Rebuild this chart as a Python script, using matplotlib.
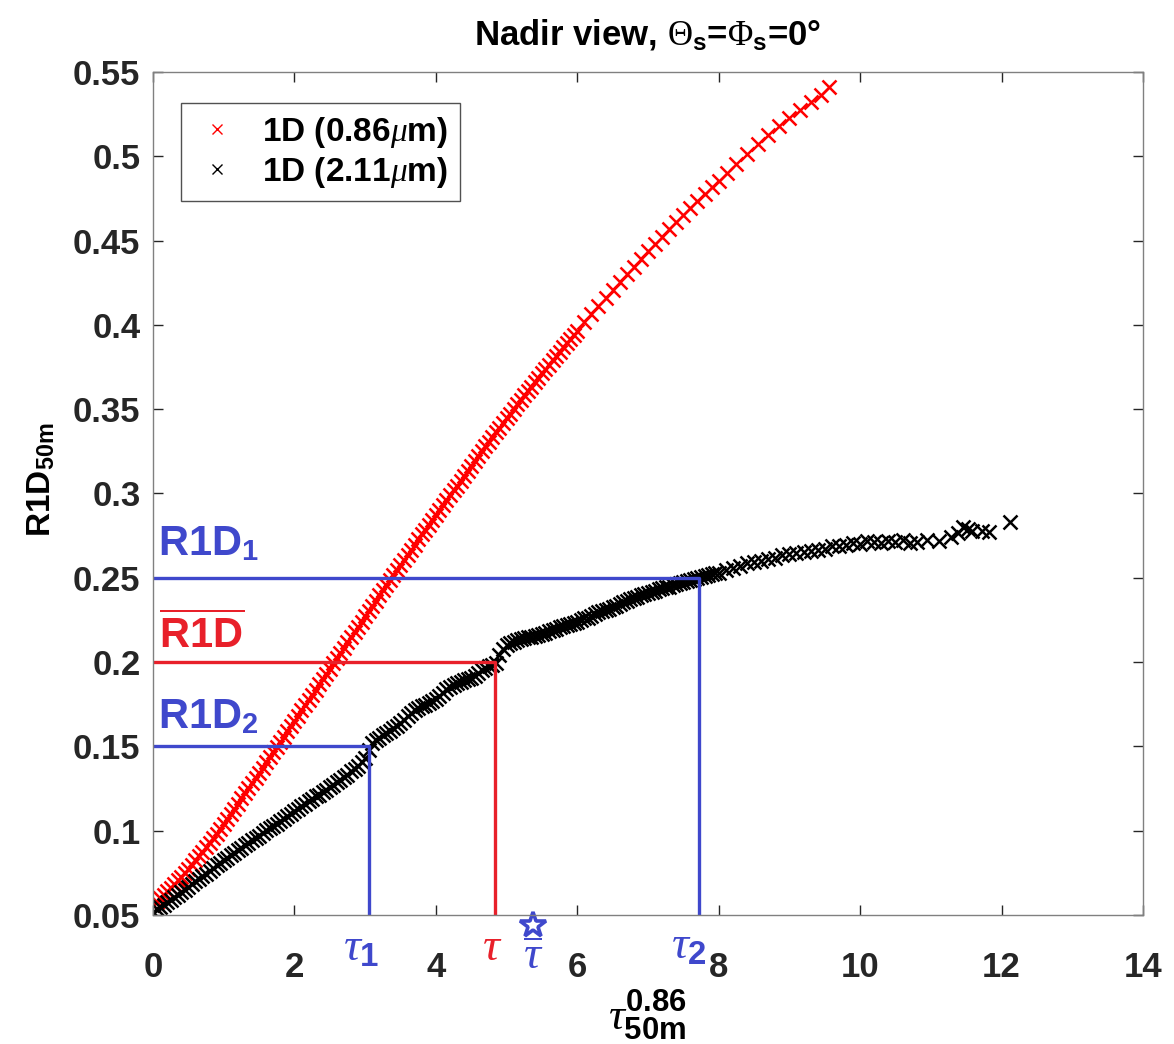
import numpy as np
import matplotlib
matplotlib.use("Agg")
import matplotlib.pyplot as plt
from matplotlib.lines import Line2D

# fonts: Helvetica-like bold text, Times-like greek letters
plt.rcParams['font.family'] = ['Liberation Sans', 'DejaVu Sans']
plt.rcParams['mathtext.fontset'] = 'custom'
plt.rcParams['mathtext.rm'] = 'Liberation Serif:normal'
plt.rcParams['mathtext.it'] = 'Liberation Serif:italic:normal'
plt.rcParams['mathtext.bf'] = 'Liberation Sans:bold'
plt.rcParams['mathtext.sf'] = 'Liberation Sans:bold'

# ---- data ----
# 1D reflectance at 0.86 um versus optical thickness
tau_086 = [0.00, 0.05, 0.10, 0.15, 0.20, 0.25, 0.30, 0.35, 0.40, 0.45,
           0.50, 0.55, 0.60, 0.65, 0.70, 0.75, 0.80, 0.85, 0.90, 0.95,
           1.00, 1.05, 1.10, 1.15, 1.20, 1.25, 1.30, 1.35, 1.40, 1.45,
           1.50, 1.55, 1.60, 1.65, 1.70, 1.75, 1.80, 1.85, 1.90, 1.95,
           2.00, 2.05, 2.10, 2.15, 2.20, 2.25, 2.30, 2.35, 2.40, 2.45,
           2.50, 2.55, 2.60, 2.65, 2.70, 2.75, 2.80, 2.85, 2.90, 2.95,
           3.00, 3.05, 3.10, 3.15, 3.20, 3.25, 3.30, 3.35, 3.40, 3.45,
           3.50, 3.55, 3.60, 3.65, 3.70, 3.75, 3.80, 3.85, 3.90, 3.95,
           4.00, 4.05, 4.10, 4.15, 4.20, 4.25, 4.30, 4.35, 4.40, 4.45,
           4.50, 4.55, 4.60, 4.65, 4.70, 4.75, 4.80, 4.85, 4.90, 4.95,
           5.00, 5.05, 5.10, 5.15, 5.20, 5.25, 5.30, 5.35, 5.40, 5.45,
           5.50, 5.55, 5.60, 5.65, 5.70, 5.75, 5.80, 5.85, 5.90, 5.95,
           6.00, 6.10, 6.20, 6.30, 6.40, 6.50, 6.60, 6.70, 6.80, 6.90,
           7.00, 7.10, 7.20, 7.30, 7.40, 7.50, 7.60, 7.70, 7.80, 7.90,
           8.00, 8.12, 8.25, 8.40, 8.55, 8.70, 8.85, 9.00, 9.15, 9.30,
           9.45, 9.56]
r1d_086 = [.0560, .0579, .0599, .0619, .0640, .0661, .0683, .0705, .0728, .0751,
           .0775, .0799, .0824, .0849, .0875, .0901, .0928, .0955, .0983, .1011,
           .1040, .1069, .1099, .1129, .1160, .1191, .1222, .1252, .1283, .1313,
           .1344, .1374, .1405, .1435, .1466, .1496, .1527, .1558, .1589, .1620,
           .1651, .1682, .1713, .1744, .1775, .1806, .1837, .1868, .1899, .1930,
           .1961, .1992, .2023, .2054, .2085, .2116, .2147, .2178, .2209, .2240,
           .2271, .2302, .2333, .2364, .2395, .2426, .2457, .2487, .2517, .2547,
           .2577, .2607, .2637, .2667, .2697, .2727, .2757, .2786, .2815, .2844,
           .2873, .2902, .2931, .2960, .2989, .3018, .3047, .3076, .3105, .3134,
           .3163, .3192, .3221, .3250, .3279, .3307, .3335, .3363, .3391, .3419,
           .3447, .3474, .3501, .3528, .3555, .3582, .3608, .3634, .3660, .3686,
           .3712, .3738, .3764, .3790, .3816, .3841, .3866, .3891, .3916, .3941,
           .3966, .4015, .4064, .4112, .4160, .4208, .4255, .4301, .4346, .4391,
           .4435, .4479, .4523, .4566, .4609, .4651, .4693, .4734, .4775, .4815,
           .4855, .4903, .4954, .5013, .5070, .5125, .5178, .5229, .5277, .5323,
           .5366, .5410]

# 1D reflectance at 2.11 um versus optical thickness
tau_211 = [0.00, 0.05, 0.10, 0.15, 0.20, 0.25, 0.30, 0.35, 0.40, 0.45,
           0.50, 0.55, 0.60, 0.65, 0.70, 0.75, 0.80, 0.85, 0.90, 0.95,
           1.00, 1.05, 1.10, 1.15, 1.20, 1.25, 1.30, 1.35, 1.40, 1.45,
           1.50, 1.55, 1.60, 1.65, 1.70, 1.75, 1.80, 1.85, 1.90, 1.95,
           2.00, 2.05, 2.10, 2.15, 2.20, 2.25, 2.30, 2.35, 2.40, 2.45,
           2.50, 2.55, 2.60, 2.65, 2.70, 2.75, 2.80, 2.85, 2.90, 2.95,
           3.00, 3.05, 3.10, 3.15, 3.20, 3.25, 3.30, 3.35, 3.40, 3.45,
           3.50, 3.55, 3.60, 3.65, 3.70, 3.75, 3.80, 3.85, 3.90, 3.95,
           4.00, 4.05, 4.10, 4.15, 4.20, 4.25, 4.30, 4.35, 4.40, 4.45,
           4.50, 4.55, 4.60, 4.65, 4.70, 4.75, 4.80, 4.85, 4.90, 4.95,
           5.00, 5.05, 5.10, 5.15, 5.20, 5.25, 5.30, 5.35, 5.40, 5.45,
           5.50, 5.55, 5.60, 5.65, 5.70, 5.75, 5.80, 5.85, 5.90, 5.95,
           6.00, 6.05, 6.10, 6.15, 6.20, 6.25, 6.30, 6.35, 6.40, 6.45,
           6.50, 6.55, 6.60, 6.65, 6.70, 6.75, 6.80, 6.85, 6.90, 6.95,
           7.00, 7.05, 7.10, 7.15, 7.20, 7.25, 7.30, 7.35, 7.40, 7.45,
           7.50, 7.55, 7.60, 7.65, 7.70, 7.75, 7.80, 7.85, 7.90, 7.95,
           8.00, 8.10, 8.20, 8.30, 8.40, 8.50, 8.60, 8.70, 8.80, 8.90,
           9.00, 9.10, 9.20, 9.30, 9.40, 9.50, 9.60, 9.70, 9.80, 9.90,
           10.00, 10.10, 10.20, 10.30, 10.40, 10.50, 10.60, 10.70, 10.80, 10.95,
           11.12, 11.28, 11.38, 11.45, 11.52, 11.58, 11.72, 11.82, 12.12]
r1d_211 = [.0520, .0533, .0548, .0561, .0577, .0590, .0606, .0620, .0637, .0650,
           .0667, .0681, .0699, .0713, .0731, .0745, .0762, .0776, .0795, .0808,
           .0826, .0839, .0856, .0867, .0884, .0897, .0913, .0925, .0944, .0955,
           .0971, .0984, .1001, .1013, .1030, .1041, .1059, .1072, .1089, .1100,
           .1118, .1131, .1146, .1157, .1175, .1186, .1203, .1214, .1232, .1242,
           .1259, .1270, .1289, .1301, .1320, .1331, .1351, .1364, .1385, .1405,
           .1431, .1478, .1521, .1539, .1552, .1568, .1579, .1592, .1608, .1623,
           .1641, .1659, .1680, .1697, .1716, .1726, .1740, .1745, .1756, .1768,
           .1781, .1797, .1818, .1839, .1852, .1861, .1873, .1882, .1891, .1897,
           .1905, .1918, .1933, .1951, .1966, .1976, .1983, .1992, .2041, .2078,
           .2099, .2112, .2119, .2128, .2136, .2141, .2146, .2149, .2157, .2162,
           .2168, .2175, .2187, .2191, .2197, .2208, .2214, .2219, .2226, .2231,
           .2238, .2251, .2259, .2262, .2271, .2283, .2296, .2300, .2308, .2316,
           .2327, .2331, .2342, .2357, .2363, .2374, .2382, .2386, .2398, .2405,
           .2412, .2417, .2424, .2431, .2438, .2443, .2448, .2455, .2461, .2468,
           .2472, .2479, .2485, .2491, .2497, .2503, .2508, .2516, .2521, .2527,
           .2531, .2545, .2556, .2569, .2587, .2592, .2601, .2612, .2619, .2633,
           .2638, .2647, .2652, .2660, .2667, .2671, .2686, .2690, .2697, .2708,
           .2702, .2716, .2710, .2705, .2719, .2713, .2722, .2706, .2712, .2725,
           .2718, .2741, .2768, .2800, .2792, .2780, .2778, .2774, .2830]

# retrieval construction
r1d_1 = 0.25      # upper reflectance
r1d_mean = 0.20   # mean reflectance
r1d_2 = 0.15      # lower reflectance
tau_1 = 3.05
tau_mean = 4.83
tau_2 = 7.72
tau_star = 5.37   # mean of tau_1 and tau_2 (shown with star)

x_ticks = [0, 2, 4, 6, 8, 10, 12, 14]
y_ticks = [0.05, 0.1, 0.15, 0.2, 0.25, 0.3, 0.35, 0.4, 0.45, 0.5, 0.55]
y_ticklabels = ['0.05', '0.1', '0.15', '0.2', '0.25', '0.3', '0.35', '0.4', '0.45', '0.5', '0.55']

blue = '#3F48CC'
red_line = '#E8202A'
axis_col = '#262626'

fig = plt.figure(figsize=(11.74, 10.44), dpi=100)
ax = fig.add_axes([0.1303, 0.1236, 0.8433, 0.8075])

ax.plot(tau_086, r1d_086, 'x', color='#FF0000', ms=10, mew=1.8, ls='none')
ax.plot(tau_211, r1d_211, 'x', color='black', ms=10, mew=1.8, ls='none')

# lines from the reflectance levels to the curve and down to the axis
ax.plot([0, tau_2, tau_2], [r1d_1, r1d_1, 0.05], color=blue, lw=2.4)
ax.plot([0, tau_mean, tau_mean], [r1d_mean, r1d_mean, 0.05], color=red_line, lw=2.4)
ax.plot([0, tau_1, tau_1], [r1d_2, r1d_2, 0.05], color=blue, lw=2.4)

ax.set_xlim(0, 14)
ax.set_ylim(0.05, 0.55)
ax.set_xticks(x_ticks)
ax.set_xticklabels([str(t) for t in x_ticks])
ax.set_yticks(y_ticks)
ax.set_yticklabels(y_ticklabels)
ax.tick_params(direction='in', length=7, width=1, colors=axis_col, labelsize=25,
               top=True, right=True)
ax.tick_params(axis='x', pad=26)
ax.tick_params(axis='y', pad=9)
for lab in ax.get_xticklabels() + ax.get_yticklabels():
    lab.set_fontweight('bold')
for sp in ax.spines.values():
    sp.set_color('#808080')
    sp.set_linewidth(1)

# level labels on the left
ax.text(0.07, 0.2635, r'R1D$_{\mathbf{1}}$', color=blue, fontsize=30, fontweight='bold', va='baseline')
ax.text(0.09, 0.2084, r'$\overline{\mathbf{R1D}}$', color=red_line, fontsize=30, va='baseline')
ax.text(0.07, 0.161, r'R1D$_{\mathbf{2}}$', color=blue, fontsize=30, fontweight='bold', va='baseline')

# tau labels under the axis
ax.text(2.95, 0.0300, r'$\tau_{\mathbf{1}}$', color=blue, fontsize=34, ha='center', va='center', clip_on=False)
ax.text(4.80, 0.0305, r'$\tau$', color=red_line, fontsize=34, ha='center', va='center', clip_on=False)
ax.text(tau_star, 0.0175, r'$\overline{\tau}$', color=blue, fontsize=34, ha='center', va='baseline', clip_on=False)
ax.plot([tau_star], [0.0440], marker='*', ms=19, mfc='white', mec=blue, mew=2.6,
        ls='none', clip_on=False)
ax.text(7.58, 0.0310, r'$\tau_{\mathbf{2}}$', color=blue, fontsize=34, ha='center', va='center', clip_on=False)

ax.set_xlabel(r'$\tau^{\mathbf{0.86}}_{\mathbf{50m}}$', fontsize=32, labelpad=3)
ax.set_ylabel(r'R1D$_{\mathbf{50m}}$', fontsize=24, fontweight='bold')
ax.yaxis.set_label_coords(-0.097, 0.516)
ax.set_title(r'Nadir view, $\Theta_{\mathbf{s}}$=$\Phi_{\mathbf{s}}$=0°', fontsize=25,
             fontweight='bold', pad=20)

handles = [Line2D([], [], marker='x', color='#FF0000', ls='none', ms=7, mew=1.0),
           Line2D([], [], marker='x', color='black', ls='none', ms=7, mew=1.0)]
leg = ax.legend(handles, [r'1D (0.86$\mu$m)', r'1D (2.11$\mu$m)'], loc='upper left',
                bbox_to_anchor=(0.028, 0.963), borderaxespad=0, fancybox=False,
                prop={'size': 24, 'weight': 'bold'}, handlelength=1.5, handletextpad=0.6,
                borderpad=0.35, labelspacing=0.15)
leg.get_frame().set_edgecolor(axis_col)
leg.get_frame().set_linewidth(1)

fig.savefig('out.png', dpi=100, facecolor='white')
